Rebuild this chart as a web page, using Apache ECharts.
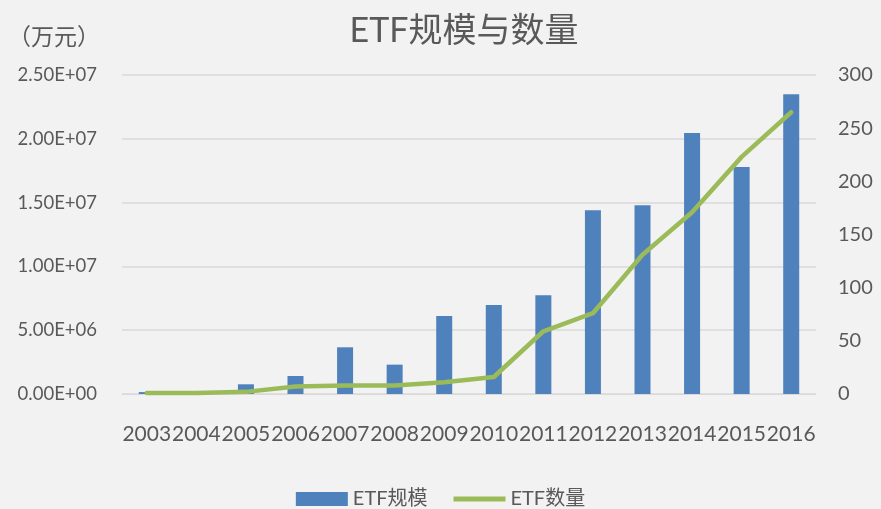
<!DOCTYPE html>
<html><head><meta charset="utf-8">
<script src="https://cdn.jsdelivr.net/npm/echarts@6/dist/echarts.min.js"></script>
<style>html,body{margin:0;padding:0;background:#f2f2f2}#c{width:881px;height:509px}</style>
</head><body><div id="c"></div>
<script>
const categories = ['2003','2004','2005','2006','2007','2008','2009','2010','2011','2012','2013','2014','2015','2016'];
const scaleValues = [150000, 0, 760000, 1410000, 3660000, 2300000, 6110000, 6970000, 7730000, 14400000, 14790000, 20450000, 17790000, 23500000];
const countValues = [1, 1, 2, 7, 8, 8, 11, 16, 59, 76, 131, 171, 223, 265];
const leftTicks = ['0.00E+00','5.00E+06','1.00E+07','1.50E+07','2.00E+07','2.50E+07'];
const seriesNames = ['ETF规模', 'ETF数量'];

const FONT = 'Lato, "Noto Sans CJK SC", sans-serif';
const TXT = '#595959';
const chart = echarts.init(document.getElementById('c'));
chart.setOption({
  backgroundColor: '#f2f2f2',
  animation: false,
  title: {
    text: 'ETF规模与数量', left: 459, top: 9, textAlign: 'center',
    textStyle: {fontFamily: FONT, fontSize: 34, fontWeight: 'normal', color: TXT}
  },
  graphic: [{
    type: 'text', left: 8, top: 25,
    style: {text: '（万元）', font: '23px "Noto Sans CJK SC"', fill: TXT}
  }],
  legend: {
    top: 484, left: 'center', itemGap: 26, itemWidth: 52, itemHeight: 14,
    textStyle: {fontFamily: FONT, fontSize: 20, color: TXT},
    data: [{name: seriesNames[0], icon: 'rect'},
           {name: seriesNames[1], icon: 'path://M0,0L52,0L52,5L0,5Z'}]
  },
  grid: {left: 122, right: 65, top: 75, bottom: 115},
  xAxis: {
    type: 'category', data: categories,
    axisLine: {lineStyle: {color: '#d9d9d9', width: 1}},
    axisTick: {show: false},
    axisLabel: {fontFamily: FONT, fontSize: 21, color: TXT, margin: 30, interval: 0}
  },
  yAxis: [{
    type: 'value', min: 0, max: 25000000, interval: 5000000,
    axisLine: {show: false}, axisTick: {show: false},
    splitLine: {lineStyle: {color: '#d9d9d9', width: 1.5}},
    axisLabel: {fontFamily: FONT, fontSize: 18.5, color: TXT, margin: 25,
      formatter: (v) => leftTicks[Math.round(v / 5000000)]}
  }, {
    type: 'value', min: 0, max: 300, interval: 50,
    axisLine: {show: false}, axisTick: {show: false}, splitLine: {show: false},
    axisLabel: {fontFamily: FONT, fontSize: 20, color: TXT, margin: 22}
  }],
  series: [{
    name: seriesNames[0], type: 'bar', data: scaleValues, barWidth: 16,
    itemStyle: {color: '#4f81bd'}
  }, {
    name: seriesNames[1], type: 'line', yAxisIndex: 1, data: countValues,
    symbol: 'none', itemStyle: {color: '#9bbb59'},
    lineStyle: {color: '#9bbb59', width: 4.5, cap: 'round', join: 'round'}
  }]
});
</script></body></html>
